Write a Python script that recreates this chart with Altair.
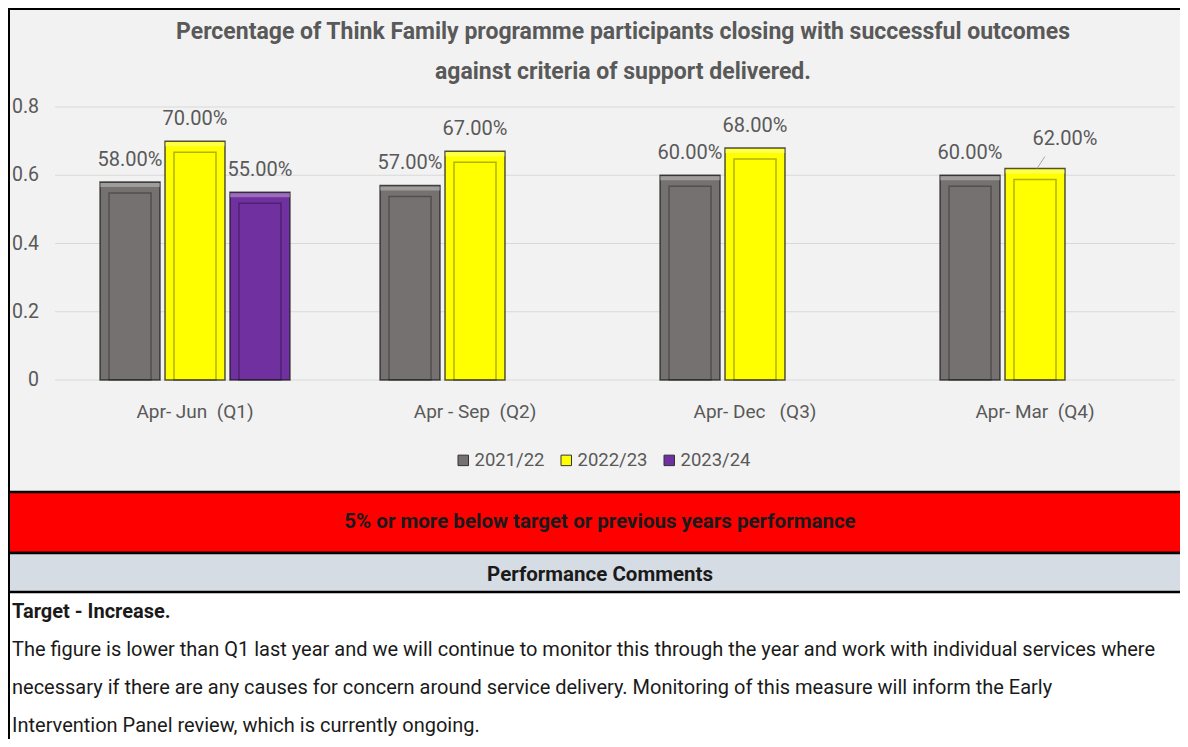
import altair as alt
import pandas as pd

# ---------------- data ----------------
quarters = ["Apr- Jun \u00a0(Q1)", "Apr - Sep \u00a0(Q2)", "Apr- Dec \u00a0 (Q3)", "Apr- Mar \u00a0(Q4)"]
years = ["2021/22", "2022/23", "2023/24"]
v_2122 = [0.58, 0.57, 0.60, 0.60]
v_2223 = [0.70, 0.67, 0.68, 0.62]
v_2324 = [0.55, None, None, None]
y_ticks = [0, 0.2, 0.4, 0.6, 0.8]
bar_colors = ["#767171", "#FFFF00", "#7030A0"]

title_lines = [
    "Percentage of Think Family programme participants closing with successful outcomes",
    "against criteria of support delivered.",
]
banner_text = "5% or more below target or previous years performance"
header_text = "Performance Comments"
comment_title = "Target - Increase."
comment_lines = [
    "The figure is lower than Q1 last year and we will continue to monitor this through the year and work with individual services where",
    "necessary if there are any causes for concern around service delivery. Monitoring of this measure will inform the Early",
    "Intervention Panel review, which is currently ongoing.",
]

rows = []
for i, q in enumerate(quarters):
    for yr, vals in zip(years, [v_2122, v_2223, v_2324]):
        if vals[i] is not None:
            rows.append({"quarter": q, "year": yr, "value": vals[i]})
bars_df = pd.DataFrame(rows)
ticks_df = pd.DataFrame({"tick": y_ticks})
q_df = pd.DataFrame({"quarter": quarters})
one = pd.DataFrame({"a": [0]})

# ---------------- layout ----------------
W, H = 1172, 731
FONT = "Roboto, Open Sans, sans-serif"
GREY_TXT = "#595959"

X0, X1 = 47, 1167
Y_ZERO, Y_TOP = 372, 99

xenc = alt.X("quarter:N", sort=quarters, axis=None,
             scale=alt.Scale(range=[X0, X1], paddingInner=0.304, paddingOuter=0.152))
xoff = alt.XOffset("year:N", sort=years,
                   scale=alt.Scale(paddingInner=0.077, paddingOuter=0.0385))
yscale = alt.Scale(domain=[0, 0.8], range=[Y_ZERO, Y_TOP])
yenc = alt.Y("value:Q", stack=None, axis=None, scale=yscale)


def panel(x, x2, y, y2, fill, stroke=None, sw=0):
    kw = dict(fill=fill)
    if stroke:
        kw.update(stroke=stroke, strokeWidth=sw)
    return alt.Chart(one).mark_rect(**kw).encode(
        x=alt.value(x), x2=alt.value(x2), y=alt.value(y), y2=alt.value(y2))


def label(txt, x, y, size, bold=False, color="#1a1a1a", align="center"):
    return alt.Chart(one).mark_text(
        text=txt, font=FONT, fontSize=size, fontWeight="bold" if bold else "normal",
        color=color, align=align, baseline="middle").encode(
        x=alt.value(x), y=alt.value(y))


layers = []
# backgrounds
layers.append(panel(0, W, 0, 484, "#F2F2F2"))
layers.append(panel(0, W, 584, H, "#FFFFFF"))
layers.append(panel(0, W + 5, 484, 545, "#FF0000", "#000000", 2.5))
layers.append(panel(0, W + 5, 545, 584, "#D6DCE4", "#000000", 2.5))
layers.append(panel(0, W, 0, 2, "#000000"))
layers.append(panel(0, 2, 0, H, "#000000"))

# gridlines
layers.append(alt.Chart(ticks_df).mark_rule(color="#D9D9D9", strokeWidth=1).encode(
    y=alt.Y("tick:Q", scale=yscale, axis=None),
    x=alt.value(X0), x2=alt.value(X1)))
# y tick labels
layers.append(alt.Chart(ticks_df).mark_text(
    font=FONT, fontSize=19.5, color=GREY_TXT, align="right", baseline="middle").encode(
    y=alt.Y("tick:Q", scale=yscale, axis=None),
    x=alt.value(31), text=alt.Text("tick:Q", format="~g")))

base = alt.Chart(bars_df).encode(x=xenc, xOffset=xoff, y=yenc)

# outer bar
layers.append(base.mark_bar(stroke="#1a1a1a", strokeOpacity=0.75, strokeWidth=1.5).encode(
    fill=alt.Fill("year:N", sort=years,
                  scale=alt.Scale(domain=years, range=bar_colors),
                  legend=alt.Legend(orient="none", legendX=446, legendY=443,
                                    direction="horizontal", title=None,
                                    symbolType="square", symbolSize=110,
                                    symbolStrokeColor="#333333", symbolStrokeWidth=1,
                                    labelFont=FONT, labelFontSize=18.5,
                                    labelColor=GREY_TXT, columnPadding=12,
                                    labelOffset=2))))
# top highlight strip
layers.append(base.mark_bar(fill="#FFFFFF", opacity=0.3, yOffset=1, y2Offset=5).encode(
    y2=alt.Y2("value:Q")))
# inner bevel panel
layers.append(base.mark_bar(width=42, yOffset=11, y2Offset=-12, fillOpacity=0,
                            stroke="#000000", strokeOpacity=0.3, strokeWidth=1.5))

# value labels (the Q4 2022/23 label sits moved up-right with a leader line)
moved = f"datum.quarter == '{quarters[3]}' && datum.year == '{years[1]}'"
layers.append(base.transform_filter(f"!({moved})").mark_text(
    font=FONT, fontSize=20, color=GREY_TXT, baseline="middle", dy=-22).encode(
    text=alt.Text("value:Q", format=".2%")))
layers.append(base.transform_filter(moved).mark_text(
    font=FONT, fontSize=20, color=GREY_TXT, baseline="middle", dy=-29, dx=30).encode(
    text=alt.Text("value:Q", format=".2%")))
layers.append(base.transform_filter(moved).mark_point(
    shape="M0.17,0L0.83,-1", size=576, filled=False, stroke="#A6A6A6",
    strokeWidth=1, opacity=1))

# x category labels
layers.append(alt.Chart(q_df).mark_text(
    font=FONT, fontSize=19, color=GREY_TXT, baseline="middle").encode(
    x=xenc, y=alt.value(404), text="quarter:N"))

# title
for i, t in enumerate(title_lines):
    layers.append(label(t, 615, 24 + 40 * i, 23, bold=True, color=GREY_TXT))

layers.append(label(banner_text, 592, 514, 20.5, bold=True))
layers.append(label(header_text, 592, 567, 20.5, bold=True))
layers.append(label(comment_title, 4, 604, 20, bold=True, align="left"))
for i, t in enumerate(comment_lines):
    layers.append(label(t, 4, 642 + 38 * i, 20, align="left"))

chart = alt.layer(*layers).properties(
    width=W, height=H, padding=0,
    autosize=alt.AutoSizeParams(type="none"),
    background="#FFFFFF",
).configure_view(stroke=None)

chart.save("out.html", embed_options={"renderer": "svg", "actions": False})
